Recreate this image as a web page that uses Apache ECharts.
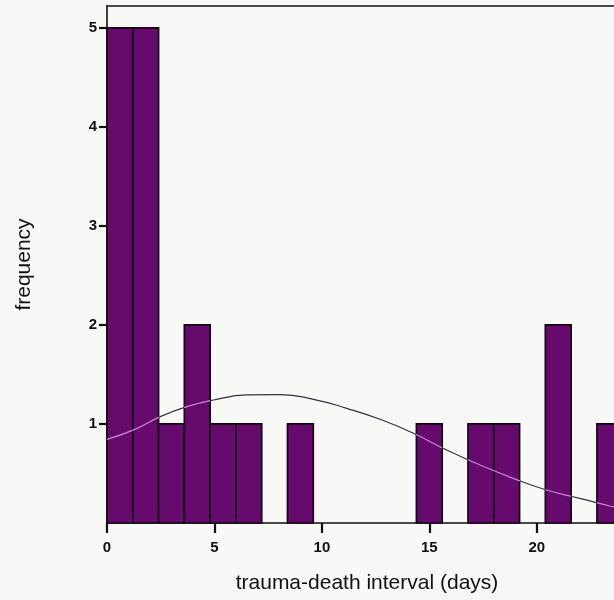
<!DOCTYPE html>
<html>
<head>
<meta charset="utf-8">
<script src="https://cdn.jsdelivr.net/npm/echarts@6/dist/echarts.min.js"></script>
<style>
  html, body { margin: 0; padding: 0; background: #f8f8f7; }
  #chart { width: 614px; height: 600px; }
</style>
</head>
<body>
<div id="chart"></div>
<script>
// Histogram of trauma-death interval, bins of 1.2 days
const binEdges = [0, 1.2, 2.4, 3.6, 4.8, 6.0, 7.2, 8.4, 9.6, 10.8, 12.0,
                  13.2, 14.4, 15.6, 16.8, 18.0, 19.2, 20.4, 21.6, 22.8, 24.0];
const binCounts = [5, 5, 1, 2, 1, 1, 0, 1, 0, 0, 0, 0, 1, 0, 1, 1, 0, 2, 0, 1];

// Fitted normal curve, read as (days, frequency) pairs
const curveDays = [0, 1.24, 2.48, 3.72, 4.96, 6.51, 8.06, 9.61, 11.16, 12.71,
                   14.26, 15.81, 17.36, 18.9, 20.45, 22.0, 23.4, 24.2];
const curveFreq = [0.845, 0.94, 1.074, 1.175, 1.242, 1.293, 1.296, 1.249, 1.158, 1.047,
                   0.906, 0.737, 0.586, 0.451, 0.333, 0.249, 0.172, 0.135];

const xTicks = [0, 5, 10, 15, 20];
const yTicks = [1, 2, 3, 4, 5];

const FONT = "'Liberation Sans', Arial, Helvetica, sans-serif";
const BAR_FILL = '#670a6d';
const BAR_EDGE = '#120612';
const CURVE_OUT = '#33333f';
const CURVE_IN = '#c58ad6';
const INK = '#111';

const barData = binCounts.map((c, i) => [binEdges[i], binEdges[i + 1], c]);
const curveData = curveDays.map((d, i) => [d, curveFreq[i]]);

function curveAt(x) {
  for (let i = 0; i < curveDays.length - 1; i++) {
    if (x >= curveDays[i] && x <= curveDays[i + 1]) {
      const t = (x - curveDays[i]) / (curveDays[i + 1] - curveDays[i]);
      return curveFreq[i] + t * (curveFreq[i + 1] - curveFreq[i]);
    }
  }
  return curveFreq[curveFreq.length - 1];
}

// Curve segments that pass over a filled bar are drawn in a lighter tint
const insidePieces = [];
binCounts.forEach((c, i) => {
  const a = binEdges[i], b = binEdges[i + 1];
  if (c > 0 && Math.max(curveAt(a), curveAt(b)) < c) {
    const last = insidePieces[insidePieces.length - 1];
    if (last && Math.abs(last.lt - a) < 1e-9) last.lt = b;
    else insidePieces.push({ gte: a, lt: b, color: CURVE_IN });
  }
});

const chart = echarts.init(document.getElementById('chart'), null, { renderer: 'canvas' });

// Top and right frame edges: axis lines only
const frameOnly = {
  axisLine: { show: true, onZero: false, lineStyle: { color: INK, width: 1.6 } },
  axisTick: { show: false },
  axisLabel: { show: false },
  splitLine: { show: false }
};

chart.setOption({
  backgroundColor: '#f8f8f7',
  animation: false,
  grid: {
    left: 107, top: 6, width: 520, height: 517,
    containLabel: false,
    outerBoundsMode: 'none',
    show: false
  },
  xAxis: [{
    type: 'value', min: 0, max: 24.2,
    name: 'trauma-death interval (days)',
    nameLocation: 'middle', nameGap: 50,
    nameTextStyle: { fontFamily: FONT, fontSize: 21, color: INK },
    axisLine: { show: true, onZero: false, lineStyle: { color: INK, width: 1.6 } },
    axisTick: { show: true, inside: false, length: 10, customValues: xTicks,
                lineStyle: { color: INK, width: 2.2 } },
    axisLabel: { customValues: xTicks, margin: 17, fontFamily: FONT, fontSize: 15,
                 fontWeight: 'bold', color: INK },
    splitLine: { show: false }
  }, Object.assign({ type: 'value', position: 'top', min: 0, max: 24.2 }, frameOnly)],
  yAxis: [{
    type: 'value', min: 0, max: 5.22,
    name: 'frequency',
    nameLocation: 'middle', nameRotate: 90, nameGap: 72,
    nameTextStyle: { fontFamily: FONT, fontSize: 21, color: INK },
    axisLine: { show: true, onZero: false, lineStyle: { color: INK, width: 1.6 } },
    axisTick: { show: true, inside: false, length: 8, customValues: yTicks,
                lineStyle: { color: INK, width: 2.2 } },
    axisLabel: { customValues: yTicks, margin: 10, fontFamily: FONT, fontSize: 15,
                 fontWeight: 'bold', color: INK },
    splitLine: { show: false }
  }, Object.assign({ type: 'value', position: 'right', min: 0, max: 5.22 }, frameOnly)],
  visualMap: {
    show: false, type: 'piecewise', seriesIndex: 1, dimension: 0,
    pieces: insidePieces,
    outOfRange: { color: CURVE_OUT }
  },
  series: [
    {
      type: 'custom',
      z: 2,
      clip: false,
      data: barData,
      renderItem: function (params, api) {
        const x0 = api.value(0), x1 = api.value(1), n = api.value(2);
        if (!n) return null;
        const p0 = api.coord([x0, 0]);
        const p1 = api.coord([x1, n]);
        return {
          type: 'rect',
          shape: { x: p0[0], y: p1[1], width: p1[0] - p0[0], height: p0[1] - p1[1] },
          style: { fill: BAR_FILL, stroke: BAR_EDGE, lineWidth: 1.7 }
        };
      }
    },
    {
      type: 'line',
      z: 5,
      data: curveData,
      smooth: true,
      showSymbol: false,
      lineStyle: { width: 1.2 }
    }
  ]
});
</script>
</body>
</html>
